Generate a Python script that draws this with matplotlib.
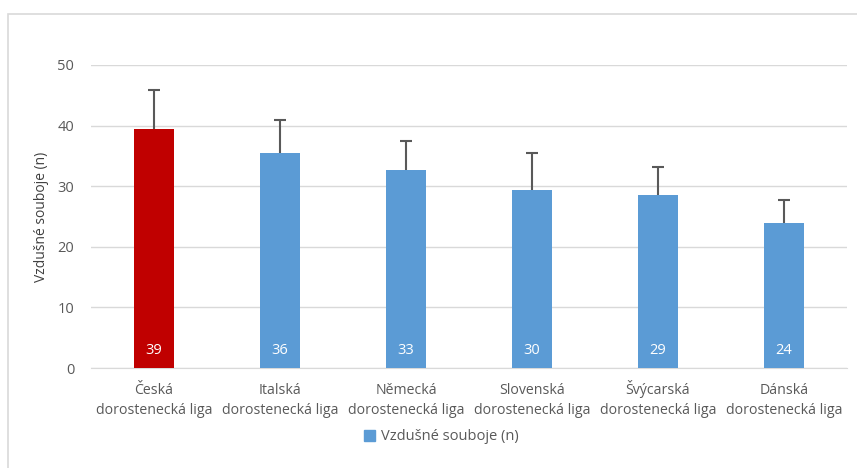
import matplotlib
matplotlib.use("Agg")
import matplotlib.pyplot as plt
from matplotlib.patches import Rectangle, Patch
from matplotlib.transforms import blended_transform_factory

plt.rcParams['font.family'] = ['Open Sans', 'DejaVu Sans']

categories = ["Česká\ndorostenecká liga", "Italská\ndorostenecká liga", "Německá\ndorostenecká liga",
              "Slovenská\ndorostenecká liga", "Švýcarská\ndorostenecká liga", "Dánská\ndorostenecká liga"]
values = [39.4, 35.4, 32.7, 29.4, 28.6, 23.9]
errors = [6.5, 5.5, 4.8, 6.1, 4.6, 3.8]
labels = ["39", "36", "33", "30", "29", "24"]
colors = ["#C00000", "#5B9BD5", "#5B9BD5", "#5B9BD5", "#5B9BD5", "#5B9BD5"]
yticks = [0, 10, 20, 30, 40, 50]
series_name = "Vzdušné souboje (n)"

W, H = 857, 468
fig = plt.figure(figsize=(W/100, H/100), dpi=100)
ax = fig.add_axes([91/W, 1-368/H, (847-91)/W, (368-65)/H])

x = list(range(len(categories)))
ax.bar(x, values, width=0.31, color=colors, zorder=3)
ax.errorbar(x, values, yerr=errors, fmt='none', ecolor='#595959',
            elinewidth=1.5, capsize=4, capthick=1.5, zorder=2.5)
for xi, lab in zip(x, labels):
    ax.text(xi, 2.9, lab, ha='center', va='center', color='white', fontsize=10.5)

ax.set_xlim(-0.5, len(categories)-0.5)
ax.set_ylim(0, 50)
ax.set_yticks(yticks)
ax.yaxis.grid(True, color='#D9D9D9', linewidth=1, zorder=0)
ax.set_axisbelow(True)
for s in ['top', 'right', 'left']:
    ax.spines[s].set_visible(False)
ax.spines['bottom'].set_color('#D9D9D9')
ax.tick_params(axis='both', length=0, colors='#595959', labelsize=10.5)
ax.tick_params(axis='y', pad=12)
ax.set_xticks(x)
ax.set_xticklabels([])
ax.set_ylabel(series_name, fontsize=10, color='#404040', labelpad=6)

trans = blended_transform_factory(ax.transData, fig.transFigure)
for xi, cat in zip(x, categories):
    l1, l2 = cat.split("\n")
    ax.text(xi, 1-394/H, l1, ha='center', va='baseline', transform=trans,
            fontsize=10.2, color='#595959')
    ax.text(xi, 1-414/H, l2, ha='center', va='baseline', transform=trans,
            fontsize=10.2, color='#595959')

fig.legend(handles=[Patch(color='#5B9BD5', label=series_name)], loc='center',
           bbox_to_anchor=(0.515, 1-437/H), frameon=False, fontsize=10.5,
           handlelength=0.7, handleheight=0.7, handletextpad=0.4, labelcolor='#595959')

fig.patches.append(Rectangle((8/W, -0.1), 1.2, 1-14/H+0.1, transform=fig.transFigure,
                             fill=False, edgecolor='#D9D9D9', linewidth=1.2))

fig.savefig("out.png", dpi=100)
